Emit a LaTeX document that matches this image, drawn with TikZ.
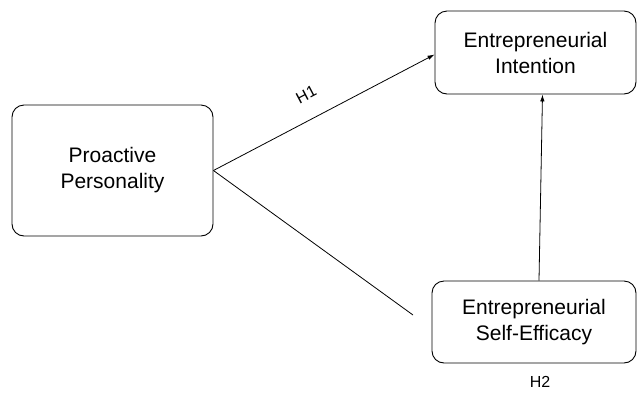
\documentclass[tikz,border=0pt]{standalone}
\usepackage{fontspec}
\setmainfont{Liberation Sans}
\usetikzlibrary{arrows.meta}
\begin{document}
\begin{tikzpicture}[x=1pt, y=-1pt,
		every node/.style = {font=\fontsize{21}{26}\selectfont, align=center},
		construct/.style = {shape=rectangle, rounded corners=12pt, draw, line width=0.9pt, inner sep=0pt},
		hyp/.style = {font=\fontsize{16}{19}\selectfont},
		path/.style = {line width=0.8pt, -{Latex[length=7pt,width=4.5pt]}}]
		\useasboundingbox (0,0) rectangle (638,392);
		\node[construct, minimum width=201pt, minimum height=131pt] (pp) at (112.5,170.5) {Proactive\\Personality};
		\node[construct, minimum width=201pt, minimum height=83pt] (ei) at (535.5,52.5) {Entrepreneurial\\Intention};
		\node[construct, minimum width=204pt, minimum height=82pt] (ese) at (534,322) {Entrepreneurial\\Self-Efficacy};
		\coordinate (gap) at (413,315);
		\draw[path] (pp.east) -- node[hyp, above=15pt, sloped, pos=0.47] (h1) {H1} ([yshift=-2pt]ei.west);
		\draw[line width=0.8pt] (pp.east) -- (gap);
		\draw[path] ([xshift=5pt]ese.north) -- ([xshift=7pt]ei.south);
		\node[hyp] (h2) at (540,382) {H2};
	\end{tikzpicture}
\end{document}
